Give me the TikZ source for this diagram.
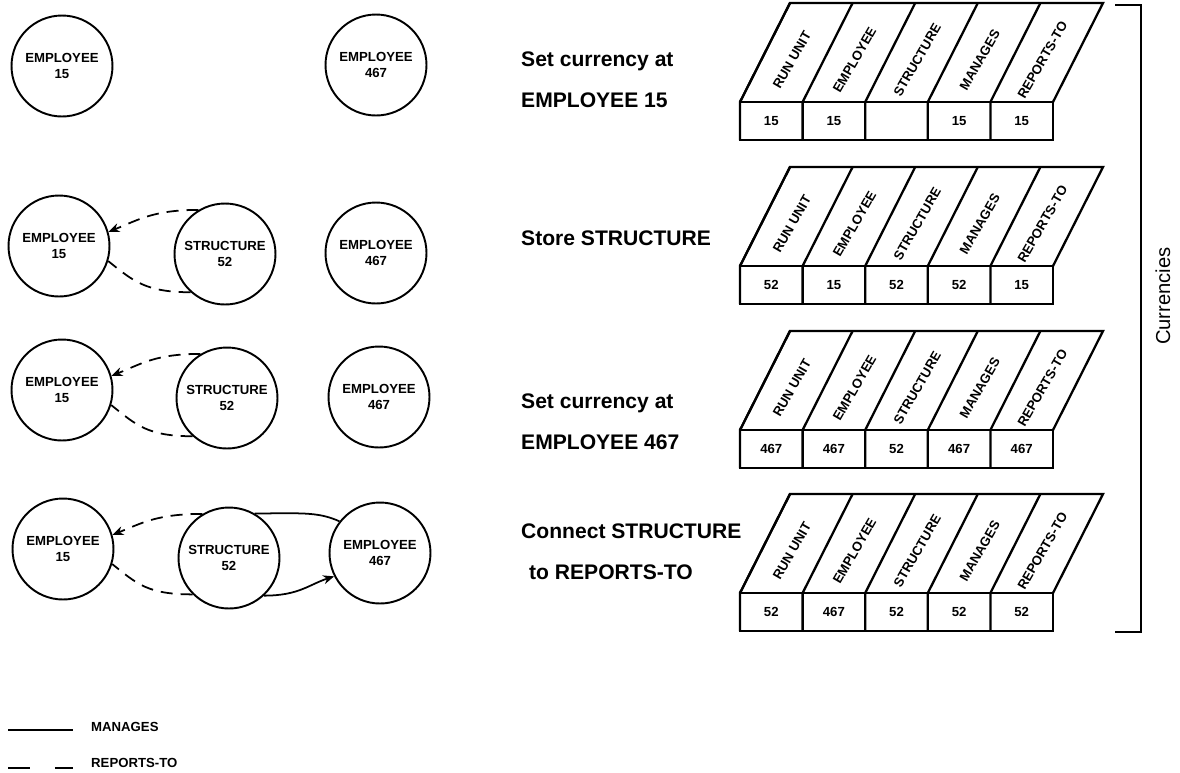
\documentclass[tikz,border=0pt]{standalone}
\usepackage{fontspec}
\setmainfont{Liberation Sans}
\usetikzlibrary{arrows.meta, positioning}

\begin{document}
\begin{tikzpicture}[
    x=0.02cm, y=-0.02cm,
    every node/.style={font=\bfseries\fontsize{7.5}{9.5}\selectfont},
    rec/.style={circle, draw, line width=1.1pt, minimum size=2.02cm, inner sep=0pt, align=center},
    caption/.style={anchor=west, align=left, font=\bfseries\fontsize{12}{23.3}\selectfont},
    colhead/.style={rotate=60, inner sep=0.5pt},
    tbl/.style={line width=1.3pt, line join=miter},
    mgr/.style={line width=1pt},
    rpt/.style={line width=1pt, dash pattern=on 0.24cm off 0.16cm},
    tip/.style={-{Stealth[length=2.2mm, width=1.8mm]}}
]
\useasboundingbox (0,0) rectangle (1180,772);

% Row 1: two employees, nothing connected
\node[rec] (e15a) at (62,66) {EMPLOYEE\\15};
\node[rec] (e467a) at (376,65) {EMPLOYEE\\467};

% Row 2: structure stored under employee 15
\node[rec] (e15b) at (59,246) {EMPLOYEE\\15};
\node[rec] (s52b) at (225,254) {STRUCTURE\\52};
\node[rec] (e467b) at (376,253) {EMPLOYEE\\467};

% Row 3: same, currency moved to employee 467
\node[rec] (e15c) at (62,390) {EMPLOYEE\\15};
\node[rec] (s52c) at (227,398) {STRUCTURE\\52};
\node[rec] (e467c) at (379,397) {EMPLOYEE\\467};

% Row 4: structure connected to both sets
\node[rec] (e15d) at (63,549) {EMPLOYEE\\15};
\node[rec] (s52d) at (229,558) {STRUCTURE\\52};
\node[rec] (e467d) at (380,553) {EMPLOYEE\\467};

% REPORTS-TO rings
\draw[rpt, tip] (s52b.121) .. controls +(-45,0) and +(30,-12) .. (e15b.16);
\draw[rpt] (s52b.228) .. controls +(-45,0) and +(25,20) .. (e15b.-17);
\draw[rpt, tip] (s52c.121) .. controls +(-45,0) and +(30,-12) .. (e15c.16);
\draw[rpt] (s52c.228) .. controls +(-45,0) and +(25,20) .. (e15c.-17);
\draw[rpt, tip] (s52d.121) .. controls +(-45,0) and +(30,-12) .. (e15d.16);
\draw[rpt] (s52d.225) .. controls +(-45,0) and +(25,20) .. (e15d.-17);

% MANAGES ring
\draw[mgr] (s52d.60) .. controls +(45,0) and +(-22,-10) .. (e467d.142);
\draw[mgr, tip] (s52d.-47) .. controls +(35,0) and +(-25,8) .. (e467d.207);

% Steps
\node[caption] (cap1) at (515,80) {Set currency at\\EMPLOYEE 15};
\node[caption] (cap2) at (515,238) {Store STRUCTURE};
\node[caption] (cap3) at (515,422) {Set currency at\\EMPLOYEE 467};
\node[caption] (cap4) at (515,552) {Connect STRUCTURE\\\hspace*{0.16cm}to REPORTS-TO};

% Currency tables
\foreach \ty/\vals [count=\tn] in {102/{15,15,,15,15}, 266/{52,15,52,52,15},
                                   430/{467,467,52,467,467}, 593/{52,467,52,52,52}} {
  \draw[tbl] (740,\ty) rectangle (1053,\ty+38);
  \draw[tbl] (740,\ty) -- (790,\ty-99) -- (1103,\ty-99) -- (1053,\ty);
  \foreach \lab [count=\c from 0] in {RUN UNIT, EMPLOYEE, STRUCTURE, MANAGES, REPORTS-TO} {
    \draw[tbl] (740+62.6*\c,\ty+38) -- ++(0,-38) -- ++(50,-99);
    \node[colhead] (h\tn\c) at (740+62.6*\c+52,\ty-42) {\lab};
  }
  \foreach \v [count=\c from 0] in \vals {
    \node (v\tn\c) at (740+62.6*\c+31.3,\ty+19) {\v};
  }
}

% Bracket
\draw[line width=1pt] (1115,5) -- (1141,5) -- (1141,632) -- (1115,632);
\node[rotate=90, font=\fontsize{11.5}{13}\selectfont] (curr) at (1163,296) {Currencies};

% Legend
\coordinate (lgA) at (8,730);
\coordinate (lgB) at (8,768);
\node[anchor=west] (lgm) at (85,727) {MANAGES};
\node[anchor=west] (lgr) at (85,763) {REPORTS-TO};
\draw[mgr] (lgA) -- ++(65,0);
\draw[line width=1pt, dash pattern=on 0.44cm off 0.5cm] (lgB) -- ++(65,0);

\end{tikzpicture}
\end{document}
